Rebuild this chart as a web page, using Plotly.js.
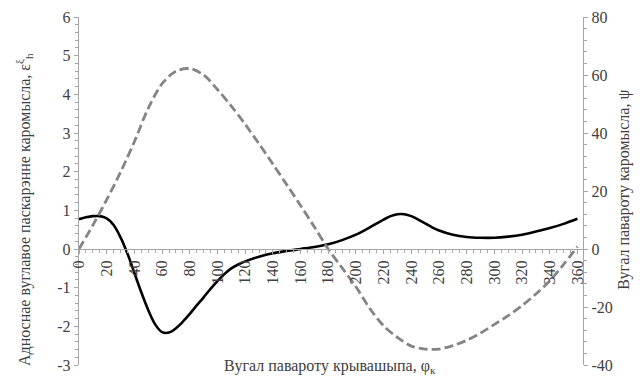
<!DOCTYPE html>
<html><head><meta charset="utf-8">
<script src="https://cdn.plot.ly/plotly-3.0.1.min.js"></script>
<style>html,body{margin:0;padding:0;background:#fff}#c{width:643px;height:387px}</style>
</head><body><div id="c"></div>
<script>
var phi = [0,5,10,15,20,25,30,35,40,45,50,55,60,65,70,75,80,85,90,95,100,105,110,115,120,130,140,150,160,170,180,190,200,210,220,225,230,235,240,245,250,255,260,270,280,290,300,310,320,330,340,350,360];
var eps = [0.77,0.82,0.85,0.85,0.79,0.62,0.3,-0.12,-0.62,-1.12,-1.58,-1.95,-2.15,-2.16,-2.05,-1.88,-1.68,-1.46,-1.25,-1.03,-0.83,-0.65,-0.5,-0.4,-0.32,-0.2,-0.11,-0.05,0.0,0.05,0.12,0.23,0.37,0.56,0.76,0.85,0.9,0.9,0.85,0.76,0.66,0.56,0.48,0.37,0.31,0.29,0.29,0.32,0.37,0.45,0.54,0.65,0.78];
var phi2 = [0,10,20,30,40,50,60,70,80,90,100,110,120,130,140,150,160,170,180,190,200,210,220,230,240,250,260,270,280,290,300,310,320,330,340,350,360];
var psi = [0,8.2,17,26.5,37,48.5,57,61.3,62.2,60,55,49.3,43,36.3,29.3,22.2,15,7.6,0,-6.5,-13,-20.5,-26.5,-30.5,-33.5,-34.5,-34.5,-33.3,-31.5,-29,-26,-23,-19.5,-15.5,-11,-5.3,0.8];
var xTicks = [0,20,40,60,80,100,120,140,160,180,200,220,240,260,280,300,320,340,360];
var yTicks = [-3,-2,-1,0,1,2,3,4,5,6];
var y2Ticks = [-40,-20,0,20,40,60,80];

var fontF = "Liberation Serif";
var tickCol = '#404040', lineCol = '#a6a6a6';
var tf = {family:fontF, size:16, color:tickCol};

var traces = [
  {x: phi, y: eps, type:'scatter', mode:'lines', line:{color:'#000', width:2.6, shape:'spline', smoothing:0.9}, yaxis:'y', hoverinfo:'none'},
  {x: phi2, y: psi, type:'scatter', mode:'lines', line:{color:'#858585', width:2.8, shape:'spline', smoothing:0.9, dash:'9px,4px'}, yaxis:'y2', hoverinfo:'none'}
];
var layout = {
  width:643, height:387, showlegend:false,
  margin:{l:79, r:60, t:17, b:22},
  paper_bgcolor:'#fff', plot_bgcolor:'#fff',
  font:{family:fontF, size:16, color:tickCol},
  xaxis:{range:[0,364], anchor:'free', position:1/3, showgrid:false, zeroline:false,
    showline:true, linecolor:lineCol, linewidth:1.2, ticks:'outside', ticklen:4, tickcolor:lineCol,
    tickvals:xTicks, ticktext:xTicks.map(String), tickangle:-90, tickfont:tf,
    minor:{dtick:5, tick0:0, ticks:'outside', ticklen:3, tickcolor:lineCol}},
  yaxis:{range:[-3,6], showgrid:false, zeroline:false, showline:true, linecolor:lineCol, linewidth:1.2,
    tickvals:yTicks, ticktext:yTicks.map(String),
    ticks:'outside', ticklen:4, tickcolor:lineCol, tickfont:tf,
    minor:{dtick:0.2, ticks:'outside', ticklen:3, tickcolor:lineCol}},
  yaxis2:{range:[-40,80], overlaying:'y', side:'right', showgrid:false, zeroline:false, showline:true,
    tickvals:y2Ticks, ticktext:y2Ticks.map(String),
    linecolor:lineCol, linewidth:1.2, ticks:'outside', ticklen:4, tickcolor:lineCol, tickfont:tf,
    minor:{dtick:4, ticks:'outside', ticklen:3, tickcolor:lineCol}},
  annotations:[
    {xref:'paper', yref:'paper', x:-0.135, y:0.448, text:'Адноснае вуглавое паскарэнне каромысла, ε<sup>ξ</sup><sub>h</sub>', textangle:-90, showarrow:false, font:{family:fontF, size:16, color:tickCol}},
    {xref:'paper', yref:'paper', x:1.103, y:0.503, text:'Вугал павароту каромысла, ψ', textangle:-90, showarrow:false, font:{family:fontF, size:16, color:tickCol}},
    {xref:'paper', yref:'paper', x:0.498, y:-0.037, text:'Вугал павароту крывашыпа, φ<sub>к</sub>', showarrow:false, font:{family:fontF, size:16, color:tickCol}}
  ]
};
Plotly.newPlot('c', traces, layout, {staticPlot:true, displayModeBar:false});
</script></body></html>
